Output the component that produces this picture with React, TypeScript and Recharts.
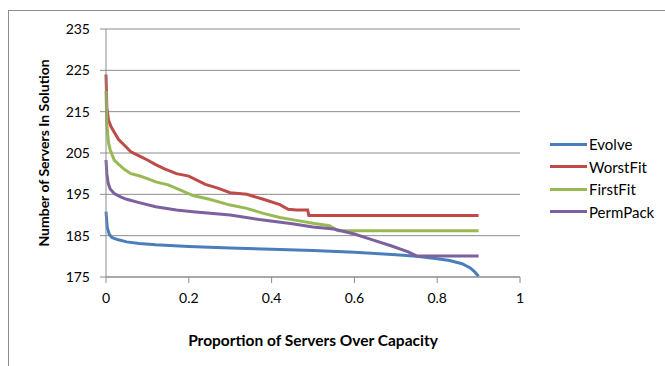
import { LineChart, Line, XAxis, YAxis, CartesianGrid } from 'recharts'

const xTicks = [0, 0.2, 0.4, 0.6, 0.8, 1]
const yTicks = [175, 185, 195, 205, 215, 225, 235]

const evolveX = [0, 0.003, 0.008, 0.015, 0.03, 0.05, 0.08, 0.12, 0.2, 0.3, 0.4, 0.5, 0.6, 0.7, 0.75, 0.8, 0.83, 0.86, 0.88, 0.89, 0.9]
const evolveY = [190.8, 187, 185.3, 184.5, 184, 183.5, 183.1, 182.8, 182.4, 182.0, 181.7, 181.4, 181.0, 180.4, 180.0, 179.4, 179.0, 178.2, 177.2, 176.3, 175.2]

const worstFitX = [0, 0.002, 0.006, 0.012, 0.02, 0.03, 0.045, 0.06, 0.08, 0.1, 0.12, 0.14, 0.17, 0.2, 0.24, 0.27, 0.3, 0.34, 0.38, 0.42, 0.44, 0.46, 0.487, 0.49, 0.9]
const worstFitY = [224, 216, 213, 211.4, 210, 208.3, 206.8, 205.3, 204.3, 203.3, 202.2, 201.2, 200, 199.4, 197.4, 196.5, 195.4, 195, 193.8, 192.5, 191.4, 191.2, 191.2, 189.9, 189.9]

const firstFitX = [0, 0.002, 0.006, 0.01, 0.015, 0.02, 0.03, 0.045, 0.06, 0.08, 0.1, 0.12, 0.15, 0.18, 0.21, 0.25, 0.3, 0.34, 0.38, 0.42, 0.46, 0.5, 0.54, 0.56, 0.9]
const firstFitY = [220, 212, 207.5, 205.8, 204.5, 203.3, 202.3, 201, 200, 199.5, 198.8, 198, 197.3, 196, 194.7, 193.8, 192.4, 191.6, 190.4, 189.4, 188.7, 188, 187.4, 186.2, 186.2]

const permPackX = [0, 0.002, 0.005, 0.01, 0.02, 0.035, 0.05, 0.08, 0.12, 0.17, 0.21, 0.3, 0.37, 0.45, 0.5, 0.55, 0.6, 0.64, 0.69, 0.73, 0.75, 0.9]
const permPackY = [203.3, 200, 197.8, 196.3, 195.2, 194.4, 193.8, 193, 192, 191.2, 190.8, 190, 188.9, 187.9, 187.1, 186.6, 185.4, 184.1, 182.5, 181.1, 180.1, 180.1]

const seriesNames = ['Evolve', 'WorstFit', 'FirstFit', 'PermPack']
const seriesColors = ['#4A7EBB', '#BE4B48', '#98B954', '#7D60A0']
const seriesX = [evolveX, worstFitX, firstFitX, permPackX]
const seriesY = [evolveY, worstFitY, firstFitY, permPackY]

const toPoints = (xs: number[], ys: number[]) => xs.map((x, i) => ({ x, y: ys[i] }))

const font = 'Lato, "Open Sans", sans-serif'
const tickStyle = { fontSize: 14, fill: '#000', fontFamily: font }

export default function App() {
  return (
    <div style={{ position: 'fixed', left: 0, top: 0, width: 665, height: 366, background: '#fff', fontFamily: font, overflow: 'hidden' }}>
      <div style={{ position: 'absolute', left: 8, top: 10, width: 700, height: 400, borderLeft: '1px solid #8c8c8c', borderTop: '1px solid #8c8c8c' }} />
      <div style={{ position: 'absolute', left: 0, top: 0 }}>
        <LineChart width={665} height={366} margin={{ top: 29, right: 145, bottom: 19, left: 46 }}>
          <CartesianGrid horizontal vertical={false} stroke="#8c8c8c" strokeWidth={1} />
          <XAxis
            dataKey="x"
            type="number"
            domain={[0, 1]}
            ticks={xTicks}
            tickFormatter={(v) => String(v)}
            height={70}
            stroke="#8c8c8c"
            tick={tickStyle}
            tickSize={6}
            tickMargin={10}
            allowDuplicatedCategory={false}
            label={{ value: 'Proportion of Servers Over Capacity', position: 'insideBottom', offset: 1, style: { fontSize: 15.5, fontWeight: 700, fill: '#000', fontFamily: font } }}
          />
          <YAxis
            dataKey="y"
            type="number"
            domain={[175, 235]}
            ticks={yTicks}
            width={60}
            stroke="#8c8c8c"
            tick={tickStyle}
            tickSize={6}
            tickMargin={10}
            label={{ value: 'Number of Servers In Solution', angle: -90, position: 'insideLeft', offset: -2, style: { textAnchor: 'middle', fontSize: 14, fontWeight: 700, fill: '#000', fontFamily: font } }}
          />
          {seriesNames.map((name, i) => (
            <Line
              key={name}
              name={name}
              data={toPoints(seriesX[i], seriesY[i])}
              dataKey="y"
              type="linear"
              stroke={seriesColors[i]}
              strokeWidth={3}
              dot={false}
              isAnimationActive={false}
            />
          ))}
        </LineChart>
      </div>
      <div style={{ position: 'absolute', left: 550, top: 133 }}>
        {seriesNames.map((name, i) => (
          <div key={name} style={{ display: 'flex', alignItems: 'center', height: 22.5, fontSize: 15, color: '#000' }}>
            <span style={{ display: 'inline-block', width: 37, height: 3, background: seriesColors[i], marginRight: 2 }} />
            {name}
          </div>
        ))}
      </div>
    </div>
  )
}
